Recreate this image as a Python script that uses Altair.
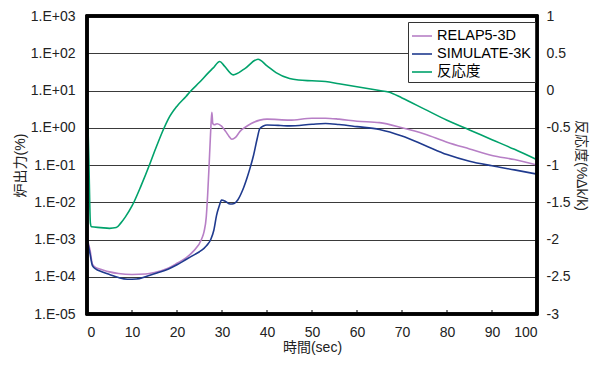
import altair as alt
import pandas as pd

# ---- data ----
relap_t = [0, 0.3, 0.7, 1.2, 2, 3, 5, 7, 10, 13, 15, 18, 20, 22, 23.6, 25.5, 26, 26.5, 26.8,
           27.1, 27.4, 27.6, 27.75, 27.95, 28.3, 28.9, 29.9, 30.8, 31.5, 32.2, 33, 34, 35,
           36.5, 38.4, 40, 45, 50, 53, 56, 60, 65, 70, 75, 80, 85, 90, 95, 100]
relap_v = [1e-3, 8e-4, 5e-4, 2.2e-4, 1.75e-4, 1.6e-4, 1.35e-4, 1.22e-4, 1.15e-4, 1.18e-4,
           1.3e-4, 1.7e-4, 2.3e-4, 3.2e-4, 4.8e-4, 1.05e-3, 1.6e-3, 4e-3, 1.5e-2,
           8e-2, 0.5, 1.5, 2.6, 1.3, 1.2, 1.28, 1.1, 0.8, 0.6, 0.49, 0.55, 0.8, 1.0,
           1.3, 1.6, 1.7, 1.6, 1.8, 1.8, 1.7, 1.5, 1.37, 1.0, 0.68, 0.41, 0.27, 0.18, 0.14, 0.10]

sim_t = [0, 0.3, 0.7, 1.2, 2, 3, 5, 7, 9, 11, 13, 15, 18, 20, 22, 24, 25, 26, 26.6, 27.5,
         28.2, 28.8, 29.4, 29.9, 30.8, 31.8, 32.7, 33.5, 34.5, 35.5, 36.2, 37, 37.8, 38.4,
         39.2, 40, 43, 45, 50, 53, 56, 60, 65, 70, 75, 80, 85, 90, 95, 100]
sim_v = [1e-3, 7e-4, 4e-4, 2e-4, 1.6e-4, 1.4e-4, 1.15e-4, 9.5e-5, 8.6e-5, 8.7e-5, 1e-4,
         1.2e-4, 1.6e-4, 2.1e-4, 2.9e-4, 4e-4, 4.7e-4, 5.8e-4, 6.9e-4, 1e-3,
         1.8e-3, 4.5e-3, 8e-3, 1.15e-2, 1.05e-2, 9e-3, 9.3e-3, 1.15e-2, 2e-2, 4.3e-2,
         8e-2, 0.18, 0.5, 0.95, 1.12, 1.18, 1.15, 1.12, 1.24, 1.3, 1.22, 1.07, 0.9, 0.6,
         0.34, 0.19, 0.126, 0.095, 0.074, 0.057]

react_t = [0, 0.4, 0.75, 1.0, 3, 5, 6.5, 7.5, 8.5, 10, 12, 14, 15, 17, 18, 20, 22, 23, 25,
           27, 28, 29.5, 30.5, 32.5, 35, 38, 40, 42, 45, 47, 50, 53, 56, 60, 63, 65, 67,
           70, 75, 80, 85, 90, 95, 100]
react_v = [0, -0.9, -1.78, -1.83, -1.84, -1.85, -1.84, -1.78, -1.7, -1.55, -1.28, -0.98,
           -0.82, -0.52, -0.39, -0.21, -0.08, -0.01, 0.11, 0.24, 0.30, 0.39, 0.33, 0.21,
           0.29, 0.42, 0.33, 0.24, 0.16, 0.14, 0.13, 0.12, 0.09, 0.05, 0.02, 0.0, -0.02,
           -0.10, -0.25, -0.40, -0.53, -0.66, -0.79, -0.93]

series_names = ["RELAP5-3D", "SIMULATE-3K", "反応度"]
series_colors = ["#b77fc6", "#1f3a8e", "#00a26b"]

x_ticks = [0, 10, 20, 30, 40, 50, 60, 70, 80, 90, 100]
inner_ticks = [10, 20, 30, 40, 50, 60, 70, 80, 90]
y_left_ticks = [1e-5, 1e-4, 1e-3, 1e-2, 1e-1, 1e0, 1e1, 1e2, 1e3]
y_right_ticks = [-3, -2.5, -2, -1.5, -1, -0.5, 0, 0.5, 1]

power_df = pd.concat([
    pd.DataFrame({"t": relap_t, "v": relap_v, "series": series_names[0], "o": range(len(relap_t))}),
    pd.DataFrame({"t": sim_t, "v": sim_v, "series": series_names[1], "o": range(len(sim_t))}),
])
react_df = pd.DataFrame({"t": react_t, "r": react_v, "series": series_names[2],
                         "o": range(len(react_t))})
tick_df = pd.DataFrame({"t": inner_ticks})

FONT = "Liberation Sans, Arial, Noto Sans CJK JP"
W, H = 450, 298

xscale = alt.Scale(domain=[0, 100], nice=False, zero=False)
xaxis = alt.Axis(values=x_ticks, title="時間(sec)", ticks=False, domain=False, grid=False,
                 labelPadding=11, titlePadding=1)
color = alt.Color("series:N",
                  scale=alt.Scale(domain=series_names, range=series_colors),
                  legend=alt.Legend(title=None, orient="none", legendX=321, legendY=6,
                                    symbolType="stroke", symbolSize=400,
                                    symbolStrokeWidth=1.6, labelFontSize=14.5,
                                    labelFont=FONT, rowPadding=0, labelOffset=4,
                                    padding=3, strokeColor="#333", fillColor="white",
                                    labelLimit=200))

log_label = ("'1.E' + (datum.value >= 1 ? '+' : '-') + "
             "(abs(round(log(datum.value)/LN10)) < 10 ? '0' : '') + "
             "abs(round(log(datum.value)/LN10))")

power = alt.Chart(power_df).mark_line(strokeWidth=1.6, interpolate="monotone").encode(
    x=alt.X("t:Q", scale=xscale, axis=xaxis),
    y=alt.Y("v:Q", scale=alt.Scale(type="log", domain=[1e-5, 1e3], nice=False),
            axis=alt.Axis(values=y_left_ticks, labelExpr=log_label, title="炉出力(%)",
                          grid=True, gridColor="#3a3a3a", gridWidth=1.1, ticks=False,
                          domain=False, labelPadding=12, titlePadding=3)),
    color=color,
    order="o:Q",
)

react = alt.Chart(react_df).mark_line(strokeWidth=1.6, interpolate="monotone").encode(
    x=alt.X("t:Q", scale=xscale, axis=xaxis),
    y=alt.Y("r:Q", scale=alt.Scale(domain=[-3, 1], nice=False, zero=False),
            axis=alt.Axis(orient="right", values=y_right_ticks, labelExpr="'' + datum.value",
                          title="反応度(%Δk/k)", grid=False, ticks=False, domain=False,
                          labelPadding=9, titlePadding=3)),
    color=color,
    order="o:Q",
)

ticks = alt.Chart(tick_df).mark_rule(color="black", strokeWidth=1).encode(
    x=alt.X("t:Q", scale=xscale, axis=xaxis),
    y=alt.value(H),
    y2=alt.value(H - 4),
)

frame = alt.Chart(tick_df).mark_rect(fill=None, stroke="black", strokeWidth=2.5).encode(
    x=alt.value(0), x2=alt.value(W), y=alt.value(0), y2=alt.value(H),
)

chart = alt.layer(power, react, ticks, frame).resolve_scale(y="independent").properties(
    width=W, height=H,
    autosize=alt.AutoSizeParams(type="none"),
    padding={"left": 79, "top": 8, "right": 55, "bottom": 43},
).configure_view(
    stroke="black", strokeWidth=2.5
).configure_axis(
    labelFont=FONT, titleFont=FONT, labelFontSize=14, titleFontSize=14,
    titleFontWeight="normal", labelColor="#222", titleColor="#222"
)

chart.save("out.html", embed_options={"renderer": "svg", "actions": False})
